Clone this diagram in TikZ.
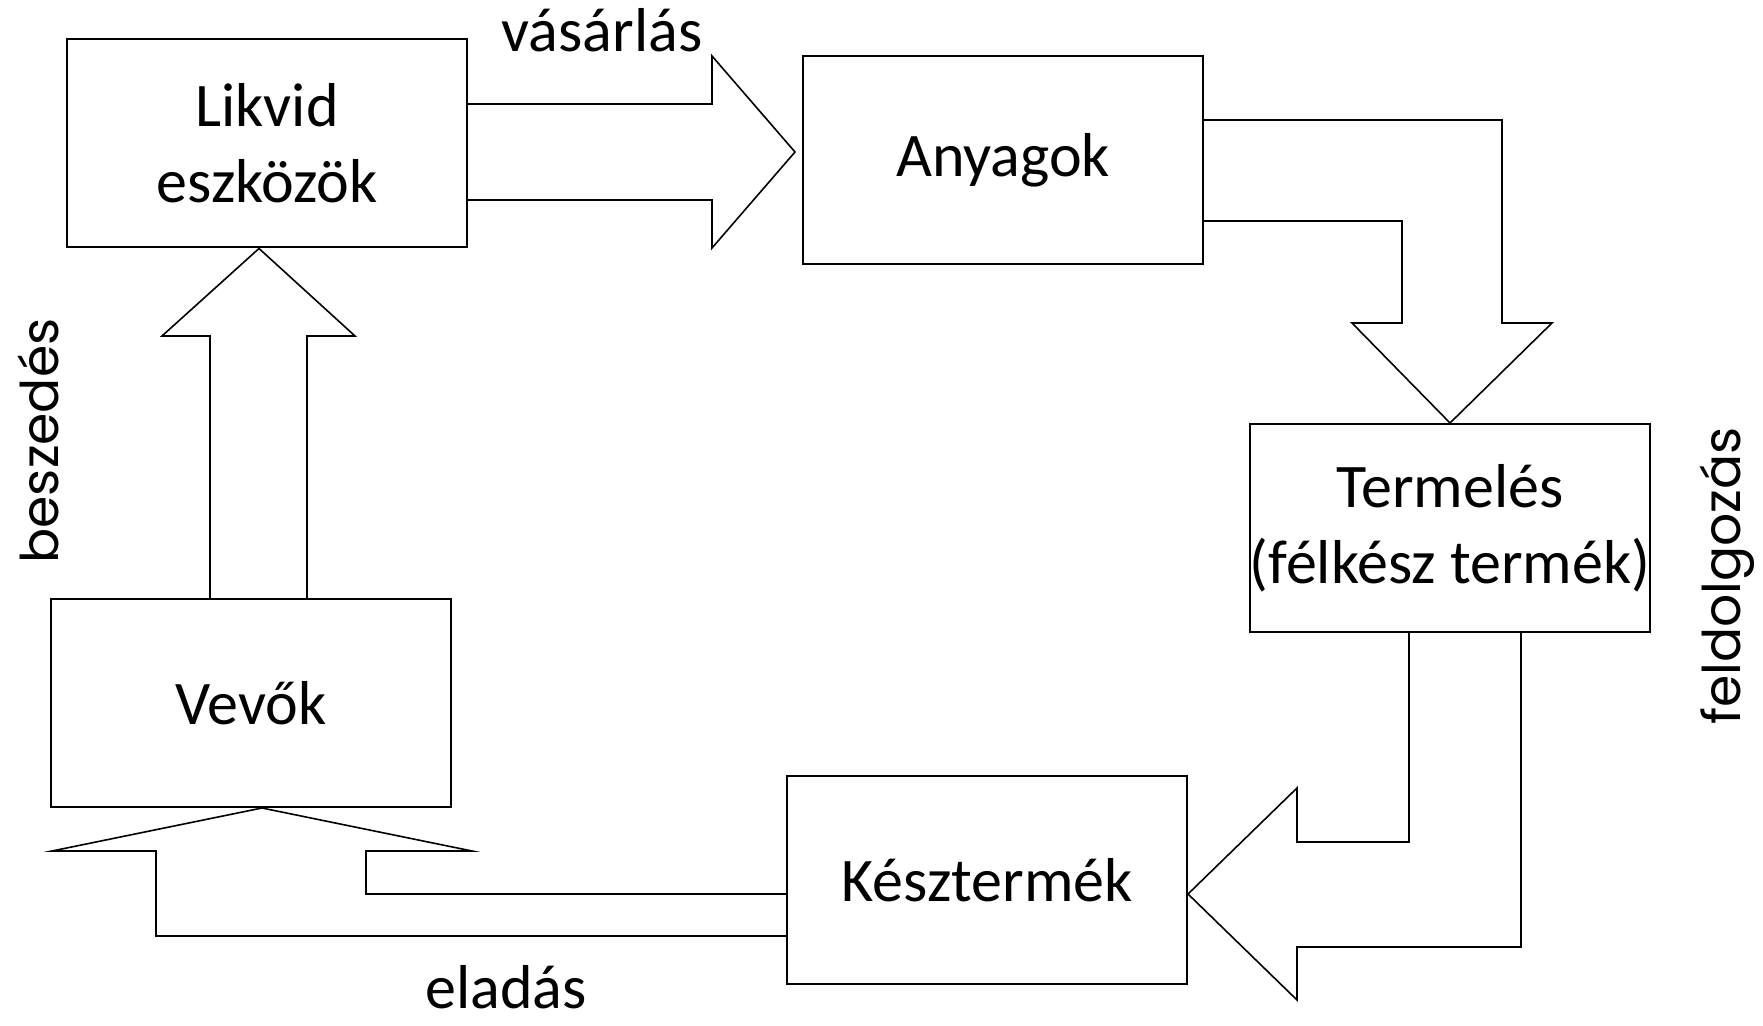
\documentclass[tikz,border=0pt]{standalone}
\usepackage{fontspec}
\setmainfont{Carlito}
\newfontfamily\sidefont{Poppins}
\usetikzlibrary{positioning}

\tikzset{
	box/.style={draw, line width=1pt, minimum width=200pt, minimum height=104pt,
		inner sep=0pt, align=center, font=\fontsize{31}{38}\selectfont},
	flowtext/.style={inner sep=0pt, font=\fontsize{31}{38}\selectfont},
	sidetext/.style={inner sep=0pt, font=\sidefont\fontsize{26}{30}\selectfont},
	bigarrow/.style={draw, line width=0.8pt, line join=miter},
}

\begin{document}
\begin{tikzpicture}[x=0.5pt, y=-0.5pt]
	\useasboundingbox (0,0) rectangle (1763,1026);
	\node[box] (likvid) at (267,143.5) {Likvid\\eszközök};
	\node[box] (anyagok) at (1003,160) {Anyagok};
	\node[box] (termeles) at (1450,528) {Termelés\\(félkész termék)};
	\node[box] (vevok) at (251,703) {Vevők};
	\node[box] (kesz) at (987,880) {Késztermék};

	\node[flowtext, anchor=base] (buy) at (602,52) {vásárlás};
	\node[flowtext, anchor=base] (sell) at (506,1008) {eladás};
	\node[sidetext, rotate=90, anchor=base] (collect) at (58,441) {beszedés};
	\node[sidetext, rotate=90, anchor=base] (process) at (1740,576) {feldolgozás};

	% block arrows
	\draw[bigarrow] (likvid.east |- 0,104) -- (712,104) -- (712,56) -- (795,152)
		-- (712,248) -- (712,200) -- (likvid.east |- 0,200);
	\draw[bigarrow] (anyagok.east |- 0,120) -- (1502,120) -- (1502,323) -- (1552,323)
		-- (termeles.north) -- (1352,323) -- (1402,323) -- (1402,221) -- (anyagok.east |- 0,221);
	\draw[bigarrow] (termeles.south -| 1521,0) -- (1521,947) -- (1297,947) -- (1297,1000)
		-- (kesz.east |- 0,894) -- (1297,788) -- (1297,842) -- (1409,842) -- (termeles.south -| 1409,0);
	\draw[bigarrow] (kesz.west |- 0,936) -- (156,936) -- (156,851) -- (52,851)
		-- (vevok.south -| 262,0) -- (472,851) -- (366,851) -- (366,894) -- (kesz.west |- 0,894);
	\draw[bigarrow] (vevok.north -| 210,0) -- (210,336) -- (162,336) -- (likvid.south -| 259,0)
		-- (355,336) -- (307,336) -- (vevok.north -| 307,0);
\end{tikzpicture}
\end{document}
